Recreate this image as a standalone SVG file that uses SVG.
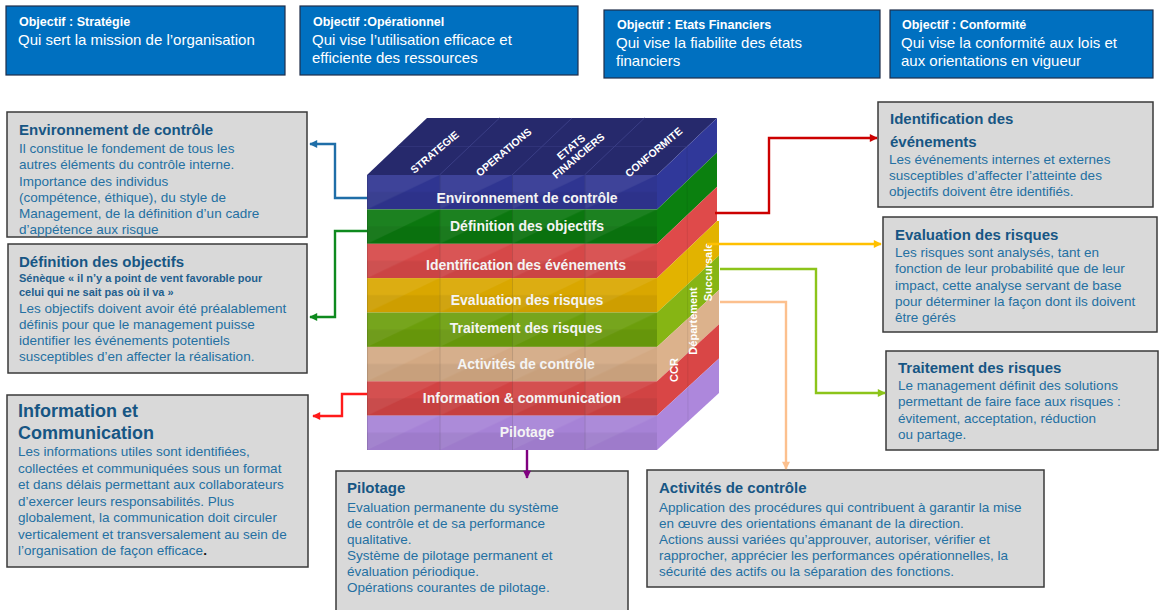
<svg xmlns="http://www.w3.org/2000/svg" width="1159" height="610" viewBox="0 0 1159 610">
  <style>
    text { font-family: "Liberation Sans", Arial, sans-serif; }
    .obj { fill: #0070c0; stroke: #1f2d4a; stroke-width: 1.2; }
    .ot { font-size: 12.5px; font-weight: bold; fill: #ffffff; }
    .ob { font-size: 15px; fill: #ffffff; }
    .box { fill: #d9d9d9; stroke: #3a3a3a; stroke-width: 1.5; }
    .h { font-size: 15px; font-weight: bold; fill: #175684; }
    .h18 { font-size: 18px; font-weight: bold; fill: #175684; }
    .sub { font-size: 11px; font-weight: bold; fill: #1f5f8e; }
    .b { font-size: 13.5px; fill: #2470a2; }
    .band { font-size: 14px; font-weight: bold; fill: #f4f4f4; text-anchor: middle; }
    .topl { font-size: 10.5px; font-weight: bold; fill: #ffffff; text-anchor: middle; }
    .side { font-size: 11px; font-weight: bold; fill: #ffffff; text-anchor: middle; }
    .wire { fill: none; stroke-width: 2.4; }
  </style>
  <defs>
    <pattern id="cell" patternUnits="userSpaceOnUse" x="367" y="175" width="72.5" height="34.375">
      <polygon points="0,34.375 0,0 72.5,0" fill="#ffffff" fill-opacity="0.07"/>
      <rect x="0" y="17" width="72.5" height="17.375" fill="#000000" fill-opacity="0.05"/>
      <line x1="0.5" y1="0" x2="0.5" y2="34.375" stroke="#000000" stroke-opacity="0.12"/>
    </pattern>
    <marker id="aBlue" viewBox="0 0 10 10" refX="9" refY="5" markerUnits="userSpaceOnUse" markerWidth="9" markerHeight="8" orient="auto"><path d="M0,0 L10,5 L0,10 z" fill="#1f6ea8"/></marker>
    <marker id="aGreen" viewBox="0 0 10 10" refX="9" refY="5" markerUnits="userSpaceOnUse" markerWidth="9" markerHeight="8" orient="auto"><path d="M0,0 L10,5 L0,10 z" fill="#0e8a1e"/></marker>
    <marker id="aRed" viewBox="0 0 10 10" refX="9" refY="5" markerUnits="userSpaceOnUse" markerWidth="9" markerHeight="8" orient="auto"><path d="M0,0 L10,5 L0,10 z" fill="#ff1a1a"/></marker>
    <marker id="aDark" viewBox="0 0 10 10" refX="9" refY="5" markerUnits="userSpaceOnUse" markerWidth="9" markerHeight="8" orient="auto"><path d="M0,0 L10,5 L0,10 z" fill="#cc0000"/></marker>
    <marker id="aYellow" viewBox="0 0 10 10" refX="9" refY="5" markerUnits="userSpaceOnUse" markerWidth="9" markerHeight="8" orient="auto"><path d="M0,0 L10,5 L0,10 z" fill="#ffc000"/></marker>
    <marker id="aLime" viewBox="0 0 10 10" refX="9" refY="5" markerUnits="userSpaceOnUse" markerWidth="9" markerHeight="8" orient="auto"><path d="M0,0 L10,5 L0,10 z" fill="#8cc41a"/></marker>
    <marker id="aPeach" viewBox="0 0 10 10" refX="9" refY="5" markerUnits="userSpaceOnUse" markerWidth="9" markerHeight="8" orient="auto"><path d="M0,0 L10,5 L0,10 z" fill="#fcc08e"/></marker>
    <marker id="aPurple" viewBox="0 0 10 10" refX="9" refY="5" markerUnits="userSpaceOnUse" markerWidth="9" markerHeight="8" orient="auto"><path d="M0,0 L10,5 L0,10 z" fill="#800080"/></marker>
  </defs>

  <rect width="1159" height="610" fill="#ffffff"/>

  <!-- Objective banners -->
  <g id="obj-strategie">
    <rect class="obj" x="6" y="6" width="279" height="69"/>
    <text class="ot" x="19" y="26">Objectif : Stratégie</text>
    <text class="ob" x="18" y="45">Qui sert la mission de l’organisation</text>
  </g>
  <g id="obj-operationnel">
    <rect class="obj" x="300" y="6" width="278" height="69"/>
    <text class="ot" x="313" y="26">Objectif :Opérationnel</text>
    <text class="ob" x="312" y="45">Qui vise l’utilisation efficace et</text>
    <text class="ob" x="312" y="63">efficiente des ressources</text>
  </g>
  <g id="obj-etats-financiers">
    <rect class="obj" x="604" y="10" width="276" height="68"/>
    <text class="ot" x="617" y="29">Objectif : Etats Financiers</text>
    <text class="ob" x="616" y="48">Qui vise la fiabilite des états</text>
    <text class="ob" x="616" y="66">financiers</text>
  </g>
  <g id="obj-conformite">
    <rect class="obj" x="890" y="10" width="263" height="68"/>
    <text class="ot" x="902" y="29">Objectif : Conformité</text>
    <text class="ob" x="901" y="48">Qui vise la conformité aux lois et</text>
    <text class="ob" x="901" y="66">aux orientations en vigueur</text>
  </g>

  <!-- COSO cube -->
  <g id="cube">
    <!-- top face -->
    <polygon points="367,175 657,175 717,118 427,118" fill="#26296c"/>
    <g stroke="#3a3e86" stroke-width="1">
      <line x1="439.5" y1="175" x2="499.5" y2="118"/>
      <line x1="512" y1="175" x2="572" y2="118"/>
      <line x1="584.5" y1="175" x2="644.5" y2="118"/>
      <line x1="397" y1="146.5" x2="687" y2="146.5" stroke-opacity="0.5"/>
    </g>
    <!-- front face bands -->
    <rect x="367" y="175" width="290" height="34.4" fill="#2f3591"/>
    <rect x="367" y="209.4" width="290" height="34.4" fill="#0b770f"/>
    <rect x="367" y="243.8" width="290" height="34.4" fill="#d64848"/>
    <rect x="367" y="278.1" width="290" height="34.4" fill="#d9a700"/>
    <rect x="367" y="312.5" width="290" height="34.4" fill="#6c9e0c"/>
    <rect x="367" y="346.9" width="290" height="34.4" fill="#d3a983"/>
    <rect x="367" y="381.3" width="290" height="34.4" fill="#d14343"/>
    <rect x="367" y="415.6" width="290" height="34.4" fill="#a682d6"/>
    <rect x="367" y="175" width="290" height="275" fill="url(#cell)"/>
    <!-- side face bands -->
    <polygon points="657,175 717,118 717,152.4 657,209.4" fill="#30389a"/>
    <polygon points="657,209.4 717,152.4 717,186.8 657,243.8" fill="#0b800f"/>
    <polygon points="657,243.8 717,186.8 717,221.1 657,278.1" fill="#df4a4a"/>
    <polygon points="657,278.1 717,221.1 719,221.1 719,255.5 657,312.5" fill="#e2b300"/>
    <polygon points="657,312.5 719,255.5 719,289.9 657,346.9" fill="#86b514"/>
    <polygon points="657,346.9 719,289.9 719,324.3 657,381.3" fill="#dcb28c"/>
    <polygon points="657,381.3 719,324.3 719,358.6 657,415.6" fill="#d94646"/>
    <polygon points="657,415.6 719,358.6 719,393 657,450" fill="#ad87dc"/>
    <line x1="687" y1="146.5" x2="688" y2="421.5" stroke="#000000" stroke-opacity="0.08"/>

    <!-- top face labels -->
    <text class="topl" transform="translate(437,155) rotate(-40)">STRATEGIE</text>
    <text class="topl" transform="translate(506,155) rotate(-40)">OPERATIONS</text>
    <g transform="translate(576,153) rotate(-40)">
      <text class="topl" x="0" y="-4">ETATS</text>
      <text class="topl" x="0" y="7.5">FINANCIERS</text>
    </g>
    <text class="topl" transform="translate(656,155) rotate(-40)">CONFORMITE</text>

    <!-- band labels -->
    <text class="band" x="527" y="203">Environnement de contrôle</text>
    <text class="band" x="527" y="231">Définition des objectifs</text>
    <text class="band" x="526" y="270">Identification des événements</text>
    <text class="band" x="527" y="305">Evaluation des risques</text>
    <text class="band" x="526" y="333">Traitement des risques</text>
    <text class="band" x="526" y="369">Activités de contrôle</text>
    <text class="band" x="522" y="403">Information &amp; communication</text>
    <text class="band" x="527" y="437">Pilotage</text>

    <!-- side labels -->
    <text class="side" transform="translate(711.5,272) rotate(-90)">Succursale</text>
    <text class="side" transform="translate(696.5,321) rotate(-90)">Département</text>
    <text class="side" transform="translate(678,370) rotate(-90)">CCR</text>
  </g>

  <!-- Component descriptions, left column -->
  <g id="env-controle">
    <rect class="box" x="7" y="112" width="300" height="125"/>
    <text class="h" x="19" y="135">Environnement de contrôle</text>
    <text class="b" x="19" y="153">Il constitue le fondement de tous les</text>
    <text class="b" x="19" y="169">autres éléments du contrôle interne.</text>
    <text class="b" x="19" y="186">Importance des individus</text>
    <text class="b" x="19" y="202">(compétence, éthique), du  style de</text>
    <text class="b" x="19" y="218">Management, de la définition d’un cadre</text>
    <text class="b" x="19" y="234">d’appétence aux risque</text>
  </g>
  <g id="def-objectifs">
    <rect class="box" x="8" y="244" width="299" height="129"/>
    <text class="h" x="19" y="267">Définition des objectifs</text>
    <text class="sub" x="19" y="282">Sénèque « il n’y a point de vent  favorable pour</text>
    <text class="sub" x="19" y="296">celui qui ne sait pas où il va »</text>
    <text class="b" x="19" y="313">Les objectifs doivent avoir été préalablement</text>
    <text class="b" x="19" y="329">définis pour que le management puisse</text>
    <text class="b" x="19" y="345">identifier les événements potentiels</text>
    <text class="b" x="19" y="361">susceptibles d’en affecter la réalisation.</text>
  </g>
  <g id="info-communication">
    <rect class="box" x="7" y="395" width="301" height="172"/>
    <text class="h18" x="18" y="417">Information et</text>
    <text class="h18" x="18" y="439">Communication</text>
    <text class="b" x="18" y="456">Les informations utiles sont identifiées,</text>
    <text class="b" x="18" y="473">collectées  et communiquées sous un format</text>
    <text class="b" x="18" y="489">et dans  délais permettant aux collaborateurs</text>
    <text class="b" x="18" y="506">d’exercer leurs responsabilités. Plus</text>
    <text class="b" x="18" y="522">globalement, la communication doit circuler</text>
    <text class="b" x="18" y="539">verticalement et transversalement au sein de</text>
    <text class="b" x="18" y="555">l’organisation de façon efficace<tspan fill="#111111" font-weight="bold">.</tspan></text>
  </g>

  <!-- Component descriptions, right column -->
  <g id="identification">
    <rect class="box" x="878" y="102" width="275" height="105"/>
    <text class="h" x="890" y="124">Identification des</text>
    <text class="h" x="890" y="147">événements</text>
    <text class="b" x="889" y="164">Les événements internes et externes</text>
    <text class="b" x="889" y="180">susceptibles d’affecter l’atteinte des</text>
    <text class="b" x="889" y="196">objectifs doivent être identifiés.</text>
  </g>
  <g id="evaluation">
    <rect class="box" x="883" y="217" width="274" height="115"/>
    <text class="h" x="895" y="240">Evaluation des risques</text>
    <text class="b" x="895" y="257">Les risques sont analysés, tant en</text>
    <text class="b" x="895" y="273">fonction de leur probabilité que de leur</text>
    <text class="b" x="895" y="290">impact, cette analyse servant de base</text>
    <text class="b" x="895" y="306">pour déterminer la façon dont ils doivent</text>
    <text class="b" x="895" y="322">être gérés</text>
  </g>
  <g id="traitement">
    <rect class="box" x="886" y="351" width="272" height="99"/>
    <text class="h" x="898" y="373">Traitement des risques</text>
    <text class="b" x="898" y="390">Le management définit des solutions</text>
    <text class="b" x="898" y="406">permettant de faire face aux risques :</text>
    <text class="b" x="898" y="423">évitement, acceptation, réduction</text>
    <text class="b" x="898" y="439">ou partage.</text>
  </g>

  <!-- Component descriptions, bottom row -->
  <g id="pilotage">
    <rect class="box" x="336" y="471" width="292" height="140"/>
    <text class="h" x="347" y="493">Pilotage</text>
    <text class="b" x="347" y="512">Evaluation permanente du système</text>
    <text class="b" x="347" y="528">de contrôle et de sa performance</text>
    <text class="b" x="347" y="544">qualitative.</text>
    <text class="b" x="347" y="560">Système de pilotage permanent et</text>
    <text class="b" x="347" y="576">évaluation périodique.</text>
    <text class="b" x="347" y="592">Opérations courantes de pilotage.</text>
  </g>
  <g id="activites-controle">
    <rect class="box" x="647" y="470" width="397" height="117"/>
    <text class="h" x="659" y="493">Activités de contrôle</text>
    <text class="b" x="659" y="512">Application des procédures qui contribuent à garantir la mise</text>
    <text class="b" x="659" y="528">en œuvre des orientations émanant de la direction.</text>
    <text class="b" x="659" y="544">Actions aussi variées qu’approuver, autoriser, vérifier et</text>
    <text class="b" x="659" y="560">rapprocher, apprécier les performances opérationnelles, la</text>
    <text class="b" x="659" y="576">sécurité des actifs ou la séparation des fonctions.</text>
  </g>

  <!-- Connectors, drawn last so arrowheads sit on the box edges -->
  <g id="connectors">
    <path class="wire" stroke="#1f6ea8" stroke-width="2" d="M367,198 H335 V144 H310" marker-end="url(#aBlue)"/>
    <path class="wire" stroke="#0e8a1e" d="M367,231 H335 V317 H310" marker-end="url(#aGreen)"/>
    <path class="wire" stroke="#ff1a1a" d="M367,394 H342 V416 H313" marker-end="url(#aRed)"/>
    <path class="wire" stroke="#cc0000" d="M715,213 H769 V138 H877" marker-end="url(#aDark)"/>
    <path class="wire" stroke="#ffc000" d="M707,244 H881" marker-end="url(#aYellow)"/>
    <path class="wire" stroke="#8cc41a" d="M720,269 H816 V393 H885" marker-end="url(#aLime)"/>
    <path class="wire" stroke="#fcc08e" d="M720,302 H786 V469" marker-end="url(#aPeach)"/>
    <path class="wire" stroke="#800080" d="M527,450 V478" marker-end="url(#aPurple)"/>
  </g>
</svg>
